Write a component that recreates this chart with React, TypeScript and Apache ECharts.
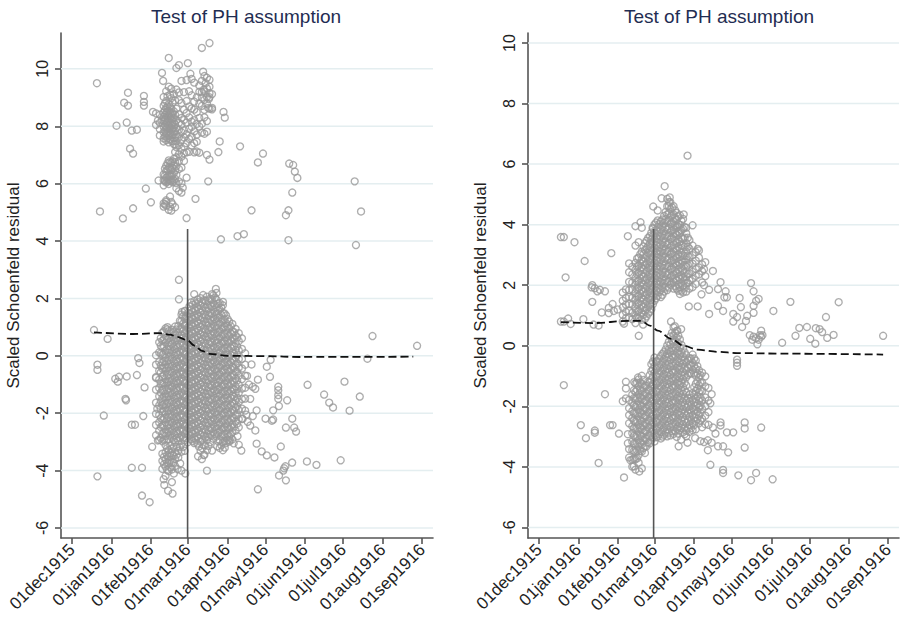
import React, { useEffect, useRef } from "react";
import * as echarts from "echarts";

// x values are days since 01dec1915
const xTickDays = [0, 31, 62, 91, 122, 152, 183, 213, 244, 275];
const xTickLabels = ["01dec1915", "01jan1916", "01feb1916", "01mar1916", "01apr1916", "01may1916", "01jun1916", "01jul1916", "01aug1916", "01sep1916"];
const yTicks = [-6, -4, -2, 0, 2, 4, 6, 8, 10];
const panelTitle = "Test of PH assumption";
const yName = "Scaled Schoenfeld residual";

// ---------- LEFT PANEL ----------
const leftUpperCols: [number, number[]][] = [
  [66, [8.45, 8.05]],
  [69, [8.4, 8.12, 7.9, 7.68]],
  [72, [9.02, 8.71, 8.48, 8.33, 8.18, 7.98, 7.79, 7.58, 7.47, 6.32, 6.12, 5.94, 5.31, 5.2]],
  [73, [8.8, 8.56, 8.39, 8.22, 8.04, 7.86, 7.66, 6.52, 6.28, 6.1, 5.28]],
  [74, [9.22, 8.88, 8.63, 8.46, 8.28, 8.11, 7.93, 7.74, 7.52, 6.62, 6.43, 6.21, 6.04, 5.37, 5.24]],
  [75, [9.05, 8.69, 8.51, 8.33, 8.15, 7.96, 7.78, 7.58, 6.71, 6.49, 6.24, 6.08]],
  [76, [9.38, 8.77, 8.54, 8.37, 8.19, 8.02, 7.83, 7.66, 7.44, 6.81, 6.57, 6.29, 6.14, 5.99, 5.09]],
  [77, [9.1, 8.68, 8.47, 8.3, 8.12, 7.94, 7.76, 7.56, 6.76, 6.52, 6.27, 6.11, 5.2]],
  [78, [9.31, 8.98, 8.62, 8.41, 8.24, 8.06, 7.88, 7.71, 7.49, 6.72, 6.48, 6.26, 6.09, 5.36, 5.06]],
  [79, [8.82, 8.46, 8.27, 8.09, 7.92, 7.7, 7.48, 6.78, 6.55, 6.3, 6.05]],
  [80, [9.12, 8.52, 8.31, 8.14, 7.97, 7.81, 7.59, 7.38, 6.86, 6.63, 6.36, 6.11]],
  [81, [8.9, 8.4, 8.07, 7.84, 7.61, 7.37, 7.1, 6.75, 6.46, 6.17]],
  [82, [9.28, 8.61, 8.21, 7.94, 7.72, 7.48, 7.27, 6.92, 6.61, 6.31, 6.02, 5.84]],
  [84, [9.18, 8.91, 8.42, 8.12, 7.88, 7.62, 7.34, 7.03, 6.79, 6.51, 6.08, 5.74]],
  [86, [8.81, 8.29, 8.06, 7.79, 7.51, 7.21, 6.94, 6.56, 6.01]],
  [88, [9.19, 8.58, 8.22, 7.86, 7.61, 7.29, 7.06, 6.79]],
  [90, [9.61, 8.88, 8.46, 8.13, 7.72, 7.41, 7.09, 6.21]],
  [92, [9.22, 8.69, 8.31, 7.91, 7.56, 7.11]],
  [94, [9.08, 8.62, 8.16, 7.98, 7.64, 7.33]],
  [96, [8.86, 8.58, 8.21, 7.82, 7.41, 7.09]],
  [98, [9.01, 8.49, 8.08, 7.71, 7.46, 7.12]],
  [100, [9.42, 8.79, 8.29, 7.99, 7.08]],
  [102, [9.58, 9.19, 8.71, 8.09, 7.78]],
  [104, [9.21, 8.92, 8.57, 8.31, 7.74]],
  [106, [9.69, 9.02, 8.79, 8.18, 7.81]],
  [108, [9.62, 9.38, 9.01, 8.61]],
  [110, [9.12, 8.59]],
];

const leftUpperPts: [number, number][] = [
  [19.6, 9.5], [22, 5.03], [35, 8.02], [40, 4.79], [44, 9.17], [41, 8.82], [44, 8.72], [43, 8.13], [47, 7.85], [51, 7.88],
  [45.6, 7.22], [48, 7.05], [48, 5.14], [56.5, 9.06], [56.5, 8.85], [56.5, 8.72], [58, 5.83], [62, 5.35], [63.6, 8.5], [67.5, 8.2],
  [70.7, 8.23], [68, 6.11], [70.7, 9.86], [71.6, 9.58], [76, 10.38], [82, 10.03], [84, 10.13], [91, 10.2], [102, 10.73], [108, 10.9],
  [86, 9.58], [90, 4.8], [97, 5.47], [86, 5.69], [87, 5.86], [93, 9.83], [94, 9.65], [96, 9.52], [103, 9.9], [104, 9.75],
  [105, 9.5], [106, 9.32], [103.5, 9.28], [100, 9.2], [102, 9.0], [108, 9.15], [107.5, 8.95], [107, 8.64], [110, 8.64], [119, 8.5],
  [120, 8.3], [116, 7.47], [115, 7.1], [108, 6.84], [106, 7.0], [107, 6.08], [117, 4.06], [132, 7.3], [130, 4.17], [135, 4.24],
  [141, 5.07], [146, 6.74], [150, 7.05], [170.6, 6.7], [173.7, 6.65], [175, 6.42], [177, 6.2], [173, 5.69], [170, 5.07], [168, 4.9],
  [170, 4.03], [222, 6.08], [227, 5.03], [223, 3.86], [74, 5.42], [79, 5.28], [81, 5.18], [77, 5.55],
];

const leftLowerCols: [number, number[]][] = [
  [66, [0.02, -0.31, -0.74, -1.18, -1.63, -2.02, -2.41, -2.77]],
  [68.5, [0.47, 0.12, -0.21, -0.52, -0.83, -1.12, -1.41, -1.73, -2.06, -2.32, -2.61, -2.93]],
  [69.75, [0.62, 0.35, 0.08, -0.34, -0.58, -0.97, -1.28, -1.58, -1.85, -2.17, -2.48, -2.86]],
  [71, [0.81, 0.53, 0.31, 0.04, -0.22, -0.44, -0.71, -0.96, -1.19, -1.46, -1.72, -1.94, -2.21, -2.44, -2.72, -2.98, -3.41, -3.66, -3.94]],
  [72.25, [0.86, 0.58, 0.33, 0.07, -0.19, -0.42, -0.68, -0.93, -1.18, -1.43, -1.68, -1.93, -2.18, -2.42, -2.68, -2.93, -3.52, -3.78]],
  [73.5, [0.96, 0.69, 0.46, 0.18, -0.06, -0.31, -0.53, -0.81, -1.04, -1.32, -1.54, -1.81, -2.04, -2.31, -2.56, -2.79, -3.12, -3.36, -3.61, -3.86, -4.18]],
  [74.75, [0.92, 0.57, 0.22, -0.18, -0.42, -0.67, -0.93, -1.18, -1.43, -1.67, -1.92, -2.18, -2.43, -2.68, -2.92, -3.22, -3.47, -3.72, -3.98]],
  [76, [0.86, 0.61, 0.33, 0.11, -0.16, -0.39, -0.66, -0.91, -1.14, -1.41, -1.64, -1.91, -2.14, -2.41, -2.64, -2.91, -3.28, -3.51, -3.74, -4.02]],
  [77.25, [0.76, 0.48, 0.22, -0.03, -0.28, -0.53, -0.78, -1.03, -1.28, -1.53, -1.78, -2.03, -2.28, -2.53, -2.78, -3.12, -3.38, -3.62, -3.88]],
  [78.5, [0.91, 0.64, 0.41, 0.14, -0.11, -0.36, -0.59, -0.86, -1.09, -1.36, -1.61, -1.84, -2.11, -2.34, -2.61, -2.86, -3.24, -3.46, -3.71, -3.96]],
  [79.75, [0.83, 0.57, 0.32, 0.07, -0.18, -0.43, -0.68, -0.93, -1.18, -1.43, -1.68, -1.93, -2.18, -2.43, -2.68, -2.93, -3.18, -3.48, -3.72]],
  [81, [1.02, 0.74, 0.51, 0.24, 0.01, -0.26, -0.49, -0.76, -0.99, -1.26, -1.49, -1.76, -1.99, -2.26, -2.49, -2.76, -3.01, -3.36, -3.59, -3.84]],
  [82.25, [0.92, 0.63, 0.38, 0.13, -0.12, -0.37, -0.62, -0.87, -1.12, -1.37, -1.62, -1.87, -2.12, -2.37, -2.62, -2.87, -3.17, -3.44]],
  [83.5, [1.04, 0.81, 0.54, 0.31, 0.04, -0.21, -0.44, -0.71, -0.94, -1.21, -1.44, -1.71, -1.94, -2.21, -2.44, -2.71, -2.96, -3.31, -3.54]],
  [84.75, [1.22, 0.93, 0.63, 0.38, 0.13, -0.12, -0.37, -0.62, -0.87, -1.12, -1.37, -1.62, -1.87, -2.12, -2.37, -2.62, -2.87, -3.18]],
  [86, [1.44, 1.21, 0.94, 0.71, 0.44, 0.21, -0.06, -0.29, -0.56, -0.79, -1.06, -1.29, -1.56, -1.79, -2.06, -2.29, -2.56, -2.79, -3.06, -3.34]],
  [87.25, [1.38, 1.12, 0.87, 0.62, 0.37, 0.12, -0.13, -0.38, -0.63, -0.88, -1.13, -1.38, -1.63, -1.88, -2.13, -2.38, -2.63, -2.88, -3.18]],
  [88.5, [1.56, 1.29, 1.06, 0.79, 0.56, 0.29, 0.06, -0.21, -0.44, -0.71, -0.94, -1.21, -1.44, -1.71, -1.94, -2.21, -2.44, -2.71, -2.94, -3.31]],
  [89.75, [1.38, 1.13, 0.88, 0.63, 0.38, 0.13, -0.12, -0.37, -0.62, -0.87, -1.12, -1.37, -1.62, -1.87, -2.12, -2.37, -2.62, -2.87]],
  [91, [1.49, 1.26, 0.99, 0.76, 0.49, 0.26, -0.01, -0.24, -0.51, -0.74, -1.01, -1.24, -1.51, -1.74, -2.01, -2.24, -2.51, -2.74, -3.01]],
  [92.25, [1.72, 1.47, 1.22, 0.97, 0.72, 0.47, 0.22, -0.03, -0.28, -0.53, -0.78, -1.03, -1.28, -1.53, -1.78, -2.03, -2.28, -2.53, -2.78]],
  [93.5, [1.86, 1.59, 1.36, 1.09, 0.86, 0.59, 0.36, 0.09, -0.14, -0.41, -0.64, -0.91, -1.14, -1.41, -1.64, -1.91, -2.14, -2.41, -2.64, -2.91]],
  [94.75, [1.78, 1.53, 1.28, 1.03, 0.78, 0.53, 0.28, 0.03, -0.22, -0.47, -0.72, -0.97, -1.22, -1.47, -1.72, -1.97, -2.22, -2.47, -2.72, -2.97]],
  [96, [1.91, 1.64, 1.41, 1.14, 0.91, 0.64, 0.41, 0.14, -0.09, -0.36, -0.59, -0.86, -1.09, -1.36, -1.59, -1.86, -2.09, -2.36, -2.59, -2.86, -3.04]],
  [97.25, [1.83, 1.58, 1.33, 1.08, 0.83, 0.58, 0.33, 0.08, -0.17, -0.42, -0.67, -0.92, -1.17, -1.42, -1.67, -1.92, -2.17, -2.42, -2.67, -2.92]],
  [98.5, [1.96, 1.69, 1.46, 1.19, 0.96, 0.69, 0.46, 0.19, -0.04, -0.31, -0.54, -0.81, -1.04, -1.31, -1.54, -1.81, -2.04, -2.31, -2.54, -2.81, -3.06]],
  [99.75, [1.87, 1.62, 1.37, 1.12, 0.87, 0.62, 0.37, 0.12, -0.13, -0.38, -0.63, -0.88, -1.13, -1.38, -1.63, -1.88, -2.13, -2.38, -2.63, -2.88, -3.16]],
  [101, [2.01, 1.74, 1.51, 1.24, 1.01, 0.74, 0.51, 0.24, 0.01, -0.26, -0.49, -0.76, -0.99, -1.26, -1.49, -1.76, -1.99, -2.26, -2.49, -2.76, -2.99, -3.31]],
  [102.25, [1.86, 1.58, 1.33, 1.08, 0.83, 0.58, 0.33, 0.08, -0.17, -0.42, -0.67, -0.92, -1.17, -1.42, -1.67, -1.92, -2.17, -2.42, -2.67, -2.94, -3.22]],
  [103.5, [1.94, 1.71, 1.44, 1.21, 0.94, 0.71, 0.44, 0.21, -0.06, -0.29, -0.56, -0.79, -1.06, -1.29, -1.56, -1.79, -2.06, -2.29, -2.56, -2.79, -3.11, -3.46]],
  [104.75, [1.92, 1.67, 1.42, 1.17, 0.92, 0.67, 0.42, 0.17, -0.08, -0.33, -0.58, -0.83, -1.08, -1.33, -1.58, -1.83, -2.08, -2.33, -2.58, -2.83, -3.12]],
  [106, [2.06, 1.79, 1.56, 1.29, 1.06, 0.79, 0.56, 0.29, 0.06, -0.21, -0.44, -0.71, -0.94, -1.21, -1.44, -1.71, -1.94, -2.21, -2.44, -2.71, -2.94, -3.29]],
  [107.25, [1.93, 1.66, 1.41, 1.16, 0.91, 0.66, 0.41, 0.16, -0.09, -0.34, -0.59, -0.84, -1.09, -1.34, -1.59, -1.84, -2.09, -2.34, -2.59, -2.84, -3.14]],
  [108.5, [1.99, 1.76, 1.49, 1.26, 0.99, 0.76, 0.49, 0.26, -0.01, -0.24, -0.51, -0.74, -1.01, -1.24, -1.51, -1.74, -2.01, -2.24, -2.51, -2.74, -3.01]],
  [109.75, [1.97, 1.72, 1.47, 1.22, 0.97, 0.72, 0.47, 0.22, -0.03, -0.28, -0.53, -0.78, -1.03, -1.28, -1.53, -1.78, -2.03, -2.28, -2.53, -2.78]],
  [111, [2.11, 1.84, 1.61, 1.34, 1.11, 0.84, 0.61, 0.34, 0.11, -0.16, -0.39, -0.66, -0.89, -1.16, -1.39, -1.66, -1.89, -2.16, -2.39, -2.66, -2.89]],
  [112.25, [2.03, 1.78, 1.53, 1.28, 1.03, 0.78, 0.53, 0.28, 0.03, -0.22, -0.47, -0.72, -0.97, -1.22, -1.47, -1.72, -1.97, -2.22, -2.47, -2.72]],
  [113.5, [2.19, 1.96, 1.69, 1.46, 1.19, 0.96, 0.69, 0.46, 0.19, -0.04, -0.31, -0.54, -0.81, -1.04, -1.31, -1.54, -1.81, -2.04, -2.31, -2.54, -2.81]],
  [114.75, [1.82, 1.57, 1.32, 1.07, 0.82, 0.57, 0.32, 0.07, -0.18, -0.43, -0.68, -0.93, -1.18, -1.43, -1.68, -1.93, -2.18, -2.43, -2.68, -2.98]],
  [116, [1.84, 1.61, 1.34, 1.11, 0.84, 0.61, 0.34, 0.11, -0.16, -0.39, -0.66, -0.89, -1.16, -1.39, -1.66, -1.89, -2.16, -2.39, -2.66, -2.94, -3.21]],
  [117.25, [1.68, 1.43, 1.18, 0.93, 0.68, 0.43, 0.18, -0.07, -0.32, -0.57, -0.82, -1.07, -1.32, -1.57, -1.82, -2.07, -2.32, -2.57, -2.82, -3.12]],
  [118.5, [1.76, 1.49, 1.26, 0.99, 0.76, 0.49, 0.26, -0.01, -0.24, -0.51, -0.74, -1.01, -1.24, -1.51, -1.74, -2.01, -2.24, -2.51, -2.74, -3.01, -3.29]],
  [119.75, [1.48, 1.27, 1.02, 0.77, 0.52, 0.27, 0.02, -0.23, -0.48, -0.73, -0.98, -1.23, -1.48, -1.73, -1.98, -2.23, -2.48, -2.73, -2.98]],
  [121, [1.41, 1.14, 0.91, 0.64, 0.41, 0.14, -0.09, -0.36, -0.59, -0.86, -1.09, -1.36, -1.59, -1.86, -2.09, -2.36, -2.59, -2.86, -3.04]],
  [122.25, [1.28, 1.03, 0.78, 0.53, 0.28, 0.03, -0.22, -0.47, -0.72, -0.97, -1.22, -1.47, -1.72, -1.97, -2.22, -2.47, -2.72, -2.94]],
  [123.5, [1.19, 0.96, 0.69, 0.46, 0.19, -0.04, -0.31, -0.54, -0.81, -1.04, -1.31, -1.54, -1.81, -2.04, -2.31, -2.54, -2.81, -2.99]],
  [124.75, [1.03, 0.78, 0.53, 0.28, 0.03, -0.22, -0.47, -0.72, -0.97, -1.22, -1.47, -1.72, -1.97, -2.22, -2.47, -2.72]],
  [126, [1.11, 0.84, 0.61, 0.34, 0.11, -0.16, -0.39, -0.66, -0.89, -1.16, -1.39, -1.66, -1.89, -2.16, -2.39, -2.66, -2.91]],
  [127.25, [0.83, 0.58, 0.33, 0.08, -0.17, -0.42, -0.67, -0.92, -1.17, -1.42, -1.67, -1.92, -2.17, -2.47]],
  [128.5, [0.94, 0.71, 0.44, 0.21, -0.06, -0.29, -0.56, -0.79, -1.06, -1.29, -1.56, -1.79, -2.06, -2.29, -2.61]],
  [129.75, [0.64, 0.33, 0.04, -0.26, -0.56, -0.86, -1.16, -1.46, -1.76, -2.06, -2.36]],
  [131, [0.79, 0.51, 0.19, -0.11, -0.41, -0.69, -1.01, -1.29, -1.61, -1.89, -2.21, -2.49]],
  [133.5, [0.61, 0.24, -0.11, -0.44, -0.81, -1.14, -1.51, -1.84, -2.19]],
  [136, [0.09, -0.31, -0.69, -1.11, -1.49, -1.91]],
];

const leftLowerPts: [number, number][] = [
  [17.3, 0.9], [28, 0.59], [20, -0.31], [20, -0.49], [25, -2.08], [20, -4.2], [34, -0.8], [36, -0.9], [37, -0.73], [43, -0.72],
  [42, -1.5], [42.5, -1.55], [47, -2.4], [49.5, -2.4], [47, -3.9], [55, -3.9], [52, -0.08], [53, -0.25], [51, -0.67], [57, -1.1],
  [56, -2.1], [55, -4.87], [61, -5.1], [63, -3.17], [67.5, -2.95], [72, -4.3], [72.5, -4.5], [75.5, -4.7], [79, -4.8], [78.5, -4.4],
  [84, 2.65], [84, 1.97], [86.5, 1.53], [88.8, 1.56], [75, 1.0], [86, -4.0], [89, -4.1], [106, -4.0], [96, 2.15], [103, 2.12],
  [110, 2.15], [113, 2.33], [118.6, 1.88], [137.5, -0.7], [137, -2.05], [134, -2.2], [138, -2.3], [142, -2.1], [140, -2.43], [144, -2.6],
  [130, -2.8], [133, -3.3], [131, -3.1], [124, -2.95], [127, -3.05], [120, -3.2], [145, -1.9], [145, -3.06], [146, -0.83], [142, -1.08],
  [144, -1.15], [146, -4.65], [149, -3.33], [153, -3.47], [159, -3.54], [152, -2.19], [157, -2.26], [158, -2.22], [158, -1.9], [153, -0.38],
  [156, -0.14], [155.5, -0.73], [162, -1.08], [162, -1.2], [162, -1.37], [162, -1.5], [162.5, -1.75], [169, -1.55], [164, -3.16], [162.6, -4.17],
  [166, -4.0], [167.6, -3.85], [166.6, -3.92], [172.9, -3.72], [168, -4.34], [168, -2.5], [173, -2.19], [174.5, -2.5], [176, -2.64], [185, -1.01],
  [184.5, -3.68], [192, -3.8], [198, -1.35], [202, -1.63], [205, -1.8], [214, -0.9], [218, -1.91], [211, -3.64], [226, -1.42], [232, -0.1],
  [236, 0.69], [271, 0.35], [67, -1.84], [66, -0.77], [99, -3.5], [102, -3.6], [104, -3.45], [110, -3.3], [114, -3.15], [140, -1.5],
  [139, -1.0], [141, -0.3], [80, -4.1], [83, -3.95], [85, -3.75],
];

const leftSmooth: [number, number][] = [
  [17.3, 0.82], [48, 0.76], [69, 0.79], [77, 0.74], [82.5, 0.66], [90, 0.56], [96.6, 0.35], [102, 0.17], [108, 0.07], [122, 0.0],
  [153, -0.01], [179, -0.04], [268, -0.03],
];
const leftVLine: [number, number][] = [[90.8, -6.35], [90.8, 4.42]];

// ---------- RIGHT PANEL ----------
const rightUpperCols: [number, number[]][] = [
  [66, [1.76, 1.49, 1.27, 1.02]],
  [68.5, [1.86, 1.58, 1.36, 1.12, 0.91]],
  [71, [2.72, 2.43, 2.11, 1.84, 1.62, 1.38, 1.16, 0.94]],
  [73.5, [2.61, 2.36, 2.09, 1.86, 1.59, 1.36, 1.09, 0.88]],
  [76, [3.31, 2.74, 2.51, 2.24, 2.01, 1.74, 1.51, 1.24, 0.99]],
  [77.25, [2.88, 2.62, 2.37, 2.12, 1.87, 1.62, 1.37, 1.12, 0.94]],
  [78.5, [3.42, 2.91, 2.64, 2.41, 2.14, 1.91, 1.64, 1.41, 1.14, 0.91]],
  [79.75, [3.02, 2.74, 2.48, 2.23, 1.98, 1.73, 1.48, 1.23, 0.98]],
  [81, [3.11, 2.86, 2.59, 2.36, 2.09, 1.86, 1.59, 1.36, 1.09, 0.86]],
  [82.25, [3.28, 3.02, 2.77, 2.52, 2.27, 2.02, 1.77, 1.52, 1.27, 1.02]],
  [83.5, [3.39, 3.16, 2.89, 2.66, 2.39, 2.16, 1.89, 1.66, 1.39, 1.16, 0.89]],
  [84.75, [3.47, 3.22, 2.97, 2.72, 2.47, 2.22, 1.97, 1.72, 1.47, 1.22, 0.97]],
  [86, [3.56, 3.29, 3.06, 2.79, 2.56, 2.29, 2.06, 1.79, 1.56, 1.29, 1.06]],
  [87.25, [3.62, 3.37, 3.12, 2.87, 2.62, 2.37, 2.12, 1.87, 1.62, 1.37, 1.12]],
  [88.5, [3.74, 3.51, 3.24, 3.01, 2.74, 2.51, 2.24, 2.01, 1.74, 1.51, 1.21]],
  [89.75, [3.87, 3.62, 3.37, 3.12, 2.87, 2.62, 2.37, 2.12, 1.87, 1.62, 1.37]],
  [91, [4.01, 3.74, 3.51, 3.24, 3.01, 2.74, 2.51, 2.24, 2.01, 1.74, 1.49]],
  [92.25, [4.07, 3.82, 3.57, 3.32, 3.07, 2.82, 2.57, 2.32, 2.07, 1.82, 1.57]],
  [93.5, [4.14, 3.91, 3.64, 3.41, 3.14, 2.91, 2.64, 2.41, 2.14, 1.91, 1.64]],
  [94.75, [4.02, 3.77, 3.52, 3.27, 3.02, 2.77, 2.52, 2.27, 2.02, 1.77]],
  [96, [4.11, 3.84, 3.61, 3.34, 3.11, 2.84, 2.61, 2.34, 2.11, 1.84, 1.61]],
  [97.25, [4.17, 3.92, 3.67, 3.42, 3.17, 2.92, 2.67, 2.42, 2.17, 1.92, 1.68]],
  [98.5, [4.29, 4.06, 3.79, 3.56, 3.29, 3.06, 2.79, 2.56, 2.29, 2.06, 1.79]],
  [99.75, [4.42, 4.17, 3.92, 3.67, 3.42, 3.17, 2.92, 2.67, 2.42, 2.17, 1.92]],
  [101, [4.61, 4.34, 4.11, 3.84, 3.61, 3.34, 3.11, 2.84, 2.61, 2.34, 2.11, 1.84]],
  [102.25, [4.62, 4.37, 4.12, 3.87, 3.62, 3.37, 3.12, 2.87, 2.62, 2.37, 2.12, 1.92]],
  [103.5, [4.74, 4.51, 4.24, 4.01, 3.74, 3.51, 3.24, 3.01, 2.74, 2.51, 2.24, 2.01]],
  [104.75, [4.57, 4.32, 4.07, 3.82, 3.57, 3.32, 3.07, 2.82, 2.57, 2.32, 2.07]],
  [106, [4.61, 4.34, 4.11, 3.84, 3.61, 3.34, 3.11, 2.84, 2.61, 2.34, 2.11, 1.89]],
  [107.25, [4.47, 4.22, 3.97, 3.72, 3.47, 3.22, 2.97, 2.72, 2.47, 2.22, 1.97]],
  [108.5, [4.39, 4.16, 3.89, 3.66, 3.39, 3.16, 2.89, 2.66, 2.39, 2.16, 1.89]],
  [109.75, [4.27, 4.02, 3.77, 3.52, 3.27, 3.02, 2.77, 2.52, 2.27, 2.02, 1.82]],
  [111, [4.31, 3.99, 3.71, 3.44, 3.21, 2.94, 2.71, 2.44, 2.21, 1.94, 1.71]],
  [112.25, [4.12, 3.82, 3.57, 3.32, 3.07, 2.82, 2.57, 2.32, 2.07, 1.82]],
  [113.5, [4.19, 3.86, 3.54, 3.31, 2.99, 2.76, 2.49, 2.26, 1.99, 1.76]],
  [114.75, [3.92, 3.57, 3.27, 2.97, 2.67, 2.42, 2.17, 1.92]],
  [116, [3.71, 3.39, 3.11, 2.84, 2.61, 2.29, 2.06, 1.79]],
  [117.25, [3.57, 3.27, 2.97, 2.67, 2.37, 2.07]],
  [118.5, [3.49, 3.21, 2.94, 2.71, 2.39, 2.16, 1.89]],
  [121, [3.31, 2.99, 2.71, 2.44, 2.21, 1.94]],
  [123.5, [3.09, 2.81, 2.54, 2.31, 2.04]],
  [126, [2.91, 2.59, 2.36]],
  [128.5, [2.69, 2.46, 2.09]],
];

const rightUpperPts: [number, number][] = [
  [17.3, 3.59], [19.6, 3.59], [28, 3.42], [36, 2.8], [21, 2.26], [57, 3.06], [70, 3.62], [76, 3.95], [80, 4.08], [81, 3.9],
  [89.5, 3.9], [90, 4.6], [93.5, 4.47], [96.6, 4.87], [99, 5.27], [101, 4.85], [103, 4.9], [102.5, 4.75], [117, 6.28], [114, 4.34],
  [109, 3.95], [116, 3.9], [121, 3.98], [125, 3.2], [126, 3.15], [131, 2.76], [130, 2.53], [137, 2.47], [131, 2.3], [143, 2.1],
  [141, 1.87], [146, 1.6], [147, 1.8], [148, 1.6], [158, 1.58], [167, 2.07], [169, 1.8], [171, 1.48], [173, 1.55], [198, 1.45],
  [236, 1.44], [42, 2.0], [41.5, 1.93], [44, 1.9], [46, 1.8], [48, 1.85], [52, 1.8], [42, 1.45], [58, 1.38], [55, 1.25],
  [118, 1.3], [125, 1.3], [17.3, 0.8], [19.6, 0.8], [23, 0.9], [25, 0.72], [35, 0.88], [43, 0.7], [47, 0.67], [49.5, 1.1],
  [55, 1.08], [59, 1.15], [62, 1.2], [66, 0.8], [67, 0.73], [78.6, 0.33], [76, 0.75], [82, 0.7], [134, 1.05], [141, 1.32],
  [145, 1.15], [153, 1.05], [153, 0.8], [159, 1.28], [156, 0.95], [160, 0.62], [163, 0.82], [164, 0.99], [169, 1.32], [169, 1.09],
  [166, 0.35], [168, 0.2], [169, 0.3], [171, 0.25], [173, 0.2], [174, 0.35], [175, 0.3], [176, 0.35], [172, 0.05], [175, 0.5],
  [184.6, 1.15], [191.5, 0.1], [202, 0.33], [205, 0.59], [211, 0.62], [213.6, 0.23], [217.6, 0.07], [218, 0.58], [221, 0.55], [223, 0.45],
  [226, 0.95], [227, 0.26], [232, 0.36], [271, 0.33], [130, 2.0], [134, 1.85], [128, 1.7],
];

const rightLowerCols: [number, number[]][] = [
  [68.5, [-1.19, -1.41, -1.74]],
  [71, [-1.79, -2.06, -2.29, -2.56, -3.41, -3.69]],
  [73.5, [-1.61, -1.89, -2.16, -2.39, -2.66, -2.89, -3.16, -3.44, -3.76, -3.99]],
  [74.75, [-1.47, -1.73, -1.98, -2.23, -2.48, -2.73, -2.98, -3.23, -3.48, -3.73, -3.98]],
  [76, [-1.24, -1.51, -1.74, -2.01, -2.24, -2.51, -2.74, -3.01, -3.24, -3.51, -3.74, -4.09]],
  [77.25, [-1.22, -1.47, -1.72, -1.97, -2.22, -2.47, -2.72, -2.97, -3.22, -3.47, -3.72]],
  [78.5, [-1.11, -1.34, -1.61, -1.84, -2.11, -2.34, -2.61, -2.84, -3.11, -3.34, -3.61, -3.86]],
  [79.75, [-1.22, -1.47, -1.72, -1.97, -2.22, -2.47, -2.72, -2.97, -3.22, -3.47]],
  [81, [-0.99, -1.26, -1.49, -1.76, -1.99, -2.26, -2.49, -2.76, -2.99, -3.26, -3.49]],
  [82.25, [-1.13, -1.38, -1.63, -1.88, -2.13, -2.38, -2.63, -2.88, -3.13, -3.38]],
  [83.5, [-1.31, -1.54, -1.81, -2.04, -2.31, -2.54, -2.81, -3.04, -3.31, -3.54]],
  [84.75, [-1.32, -1.57, -1.82, -2.07, -2.32, -2.57, -2.82, -3.07, -3.32]],
  [86, [-1.19, -1.46, -1.69, -1.96, -2.19, -2.46, -2.69, -2.96, -3.19]],
  [87.25, [-0.97, -1.22, -1.47, -1.72, -1.97, -2.22, -2.47, -2.72, -2.97, -3.22]],
  [88.5, [-0.61, -0.84, -1.11, -1.34, -1.61, -1.84, -2.11, -2.34, -2.61, -2.84, -3.11]],
  [89.75, [-0.52, -0.77, -1.02, -1.27, -1.52, -1.77, -2.02, -2.27, -2.52, -2.77, -3.02]],
  [91, [-0.39, -0.66, -0.89, -1.16, -1.39, -1.66, -1.89, -2.16, -2.39, -2.66, -2.89, -3.16]],
  [92.25, [-0.52, -0.77, -1.02, -1.27, -1.52, -1.77, -2.02, -2.27, -2.52, -2.77, -3.02]],
  [93.5, [-0.51, -0.74, -1.01, -1.24, -1.51, -1.74, -2.01, -2.24, -2.51, -2.74, -3.01]],
  [94.75, [-0.42, -0.67, -0.92, -1.17, -1.42, -1.67, -1.92, -2.17, -2.42, -2.67, -2.92]],
  [96, [-0.34, -0.61, -0.84, -1.11, -1.34, -1.61, -1.84, -2.11, -2.34, -2.61, -2.84, -3.06]],
  [97.25, [-0.27, -0.52, -0.77, -1.02, -1.27, -1.52, -1.77, -2.02, -2.27, -2.52, -2.77, -3.0]],
  [98.5, [-0.21, -0.44, -0.71, -0.94, -1.21, -1.44, -1.71, -1.94, -2.21, -2.44, -2.71, -2.94]],
  [99.75, [-0.12, -0.37, -0.62, -0.87, -1.12, -1.37, -1.62, -1.87, -2.12, -2.37, -2.62, -2.87]],
  [101, [0.01, -0.26, -0.49, -0.76, -0.99, -1.26, -1.49, -1.76, -1.99, -2.26, -2.49, -2.76, -2.99]],
  [102.25, [0.13, -0.12, -0.37, -0.62, -0.87, -1.12, -1.37, -1.62, -1.87, -2.12, -2.37, -2.62, -2.87]],
  [103.5, [0.31, 0.04, -0.19, -0.46, -0.69, -0.96, -1.19, -1.46, -1.69, -1.96, -2.19, -2.46, -2.69, -2.96]],
  [104.75, [0.43, 0.18, -0.07, -0.32, -0.57, -0.82, -1.07, -1.32, -1.57, -1.82, -2.07, -2.32, -2.57, -2.82]],
  [106, [0.61, 0.34, 0.11, -0.16, -0.39, -0.66, -0.89, -1.16, -1.39, -1.66, -1.89, -2.16, -2.39, -2.66, -2.91]],
  [107.25, [0.42, 0.18, -0.07, -0.32, -0.57, -0.82, -1.07, -1.32, -1.57, -1.82, -2.07, -2.32, -2.57, -2.82]],
  [108.5, [0.49, 0.26, -0.01, -0.24, -0.51, -0.74, -1.01, -1.24, -1.51, -1.74, -2.01, -2.24, -2.51, -2.74, -3.01]],
  [109.75, [0.33, 0.08, -0.17, -0.42, -0.67, -0.92, -1.17, -1.42, -1.67, -1.92, -2.17, -2.42, -2.67, -2.9]],
  [111, [0.21, -0.06, -0.29, -0.56, -0.79, -1.06, -1.29, -1.56, -1.79, -2.06, -2.29, -2.56, -2.79]],
  [112.25, [0.03, -0.22, -0.47, -0.72, -0.97, -1.22, -1.47, -1.72, -1.97, -2.22, -2.47, -2.72]],
  [113.5, [-0.09, -0.36, -0.59, -0.86, -1.09, -1.36, -1.59, -1.86, -2.09, -2.36, -2.59, -2.86]],
  [114.75, [-0.22, -0.47, -0.72, -0.97, -1.22, -1.47, -1.72, -1.97, -2.22, -2.47, -2.72, -2.92]],
  [116, [-0.31, -0.54, -0.81, -1.04, -1.31, -1.54, -1.81, -2.04, -2.31, -2.54, -2.81, -2.99]],
  [117.25, [-0.47, -0.72, -0.97, -1.72, -1.97, -2.22, -2.47, -2.72]],
  [118.5, [-0.41, -0.64, -0.91, -1.61, -1.84, -2.11, -2.34, -2.61, -2.84]],
  [119.75, [-0.42, -0.67, -0.92, -1.72, -1.97, -2.22, -2.47, -2.72]],
  [121, [-0.29, -0.56, -0.79, -1.56, -1.79, -2.06, -2.29, -2.56, -2.79]],
  [122.25, [-0.42, -0.67, -0.92, -1.37, -1.62, -1.87, -2.12, -2.37, -2.62]],
  [123.5, [-0.49, -0.76, -0.99, -1.26, -1.49, -1.76, -1.99, -2.26, -2.49, -2.76]],
  [124.75, [-0.67, -0.92, -1.17, -1.42, -1.67, -1.92, -2.17, -2.42]],
  [126, [-0.81, -1.04, -1.31, -1.54, -1.81, -2.04, -2.31, -2.56]],
  [127.25, [-0.97, -1.22, -1.47, -1.72, -1.97, -2.22, -2.47]],
  [128.5, [-0.89, -1.21, -1.49, -1.81, -2.09, -2.41, -2.69]],
  [131, [-1.01, -1.34, -1.71, -1.99, -2.31, -2.59]],
  [133.5, [-1.39, -1.81, -2.19, -2.61]],
];

const rightLowerPts: [number, number][] = [
  [19.6, -1.3], [52, -1.6], [66, -1.83], [33, -2.62], [37, -3.05], [44, -2.8], [44, -2.87], [47, -3.87], [56, -2.62], [58, -2.62],
  [63, -2.9], [70, -2.92], [70, -3.22], [67, -4.35], [72, -3.78], [156, -0.46], [156, -0.56], [156, -0.66], [110, -3.32], [117, -3.2],
  [127, -3.15], [130, -3.18], [133, -3.12], [136, -3.2], [133, -3.45], [135, -3.93], [141, -3.32], [145, -3.32], [149, -3.52], [143, -2.53],
  [143, -2.63], [148, -2.86], [153, -2.86], [145, -4.1], [145, -4.2], [157, -4.28], [162, -2.53], [162, -2.73], [162, -3.36], [167, -4.44],
  [171, -4.2], [175, -2.7], [184, -4.41], [137, -2.7], [139, -2.9], [136, -1.6], [135, -1.9], [104, 0.8], [107, 0.65], [109, 0.5],
  [112, 0.55], [75, -1.2], [78, -1.05], [81, -4.05], [79, -4.15], [112, -3.1], [123, -3.05],
];

const rightSmooth: [number, number][] = [
  [17.3, 0.78], [43, 0.75], [70, 0.82], [80, 0.82], [88, 0.66], [93.5, 0.5], [104, 0.23], [114, 0.0], [125, -0.13], [141, -0.2],
  [156, -0.24], [192.5, -0.26], [271, -0.29],
];
const rightVLine: [number, number][] = [[90.3, -6.35], [90.3, 3.86]];

const FONT = "'Liberation Sans', Arial, Helvetica, sans-serif";

function flatten(cols: [number, number[]][]): [number, number][] {
  const out: [number, number][] = [];
  cols.forEach(([d, vs]) => vs.forEach((v) => out.push([d, v])));
  return out;
}

function labelFor(v: number): string {
  const i = xTickDays.indexOf(Math.round(v));
  return i >= 0 ? xTickLabels[i] : "";
}

function makeAxes(idx: number, yMin: number, yMax: number) {
  const axisLine = { show: true, onZero: false, lineStyle: { color: "#555", width: 1.6 } };
  const x = {
    type: "value", gridIndex: idx, min: -8.6, max: 283.5,
    axisLine,
    axisTick: { show: true, customValues: xTickDays, length: 6, lineStyle: { color: "#555", width: 1.6 } },
    axisLabel: { customValues: xTickDays, rotate: 45, formatter: (v: number) => labelFor(v), fontSize: 17, color: "#222", fontFamily: FONT, margin: 9 },
    splitLine: { show: false },
  };
  const y = {
    type: "value", gridIndex: idx, min: yMin, max: yMax,
    axisLine,
    axisTick: { show: true, customValues: yTicks, length: 6, lineStyle: { color: "#555", width: 1.6 } },
    axisLabel: { customValues: yTicks, rotate: 90, fontSize: 16, color: "#222", fontFamily: FONT, margin: 11 },
    splitLine: { show: false },
    name: yName, nameLocation: "middle", nameGap: 39,
    nameTextStyle: { fontSize: 17, color: "#222", fontFamily: FONT },
  };
  return { x, y };
}

function panelSeries(idx: number, pts: [number, number][], smooth: [number, number][], vline: [number, number][]) {
  const s: any[] = [];
  yTicks.forEach((t) => {
    s.push({
      type: "line", xAxisIndex: idx, yAxisIndex: idx, data: [[-8.6, t], [283.5, t]], symbol: "none", silent: true, z: 1,
      lineStyle: { color: "#e4eef0", width: 1.5 },
    });
  });
  s.push({
    type: "scatter", xAxisIndex: idx, yAxisIndex: idx, data: pts, symbol: "circle", symbolSize: 7, z: 2, silent: true,
    itemStyle: { color: "rgba(255,255,255,0)", borderColor: "#999999", borderWidth: 1.35 },
  });
  s.push({
    type: "line", xAxisIndex: idx, yAxisIndex: idx, data: vline, symbol: "none", z: 3, silent: true,
    lineStyle: { color: "#555", width: 1.6 },
  });
  s.push({
    type: "line", xAxisIndex: idx, yAxisIndex: idx, data: smooth, symbol: "none", smooth: 0.35, smoothMonotone: "x", z: 4, silent: true,
    lineStyle: { color: "#111", width: 1.8, type: [8, 4] },
  });
  return s;
}

export default function App() {
  const ref = useRef<HTMLDivElement>(null);
  useEffect(() => {
    if (!ref.current) return;
    const chart = echarts.init(ref.current, undefined, { renderer: "svg" });
    const a0 = makeAxes(0, -6.35, 11.25);
    const a1 = makeAxes(1, -6.35, 10.33);
    const leftPts = [...flatten(leftUpperCols), ...leftUpperPts, ...flatten(leftLowerCols), ...leftLowerPts];
    const rightPts = [...flatten(rightUpperCols), ...rightUpperPts, ...flatten(rightLowerCols), ...rightLowerPts];
    chart.setOption({
      animation: false,
      backgroundColor: "#ffffff",
      grid: [
        { left: 61, top: 33, width: 372, height: 507 },
        { left: 528, top: 33, width: 371, height: 507 },
      ],
      xAxis: [a0.x, a1.x],
      yAxis: [a0.y, a1.y],
      graphic: [
        { type: "text", x: 246, y: 7, style: { text: panelTitle, textAlign: "center", textVerticalAlign: "top", fill: "#1f2d52", font: `19px ${FONT}` } },
        { type: "text", x: 719, y: 7, style: { text: panelTitle, textAlign: "center", textVerticalAlign: "top", fill: "#1f2d52", font: `19px ${FONT}` } },
      ],
      series: [
        ...panelSeries(0, leftPts, leftSmooth, leftVLine),
        ...panelSeries(1, rightPts, rightSmooth, rightVLine),
      ],
    });
    return () => chart.dispose();
  }, []);
  return <div ref={ref} style={{ position: "absolute", left: 0, top: 0, width: 902, height: 618 }} />;
}
